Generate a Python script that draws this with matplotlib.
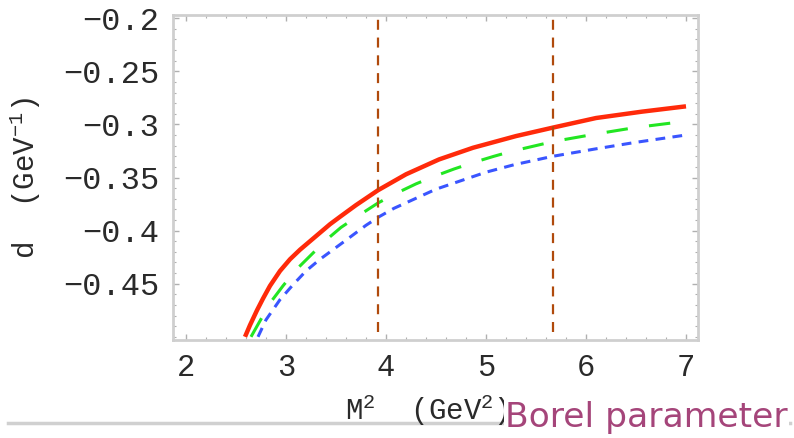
import matplotlib
matplotlib.use("Agg")
import matplotlib.pyplot as plt
from matplotlib.ticker import MultipleLocator, FixedLocator, FixedFormatter
from matplotlib.lines import Line2D

plt.rcParams['font.family'] = ['Liberation Mono', 'DejaVu Sans']
plt.rcParams['mathtext.fontset'] = 'custom'
plt.rcParams['mathtext.rm'] = 'Liberation Mono'
plt.rcParams['mathtext.it'] = 'Liberation Mono'

# ── data ──
red_x = [2.59, 2.64, 2.71, 2.77, 2.84, 2.94, 3.04, 3.14, 3.24, 3.34, 3.44, 3.54,
         3.70, 3.92, 4.20, 4.53, 4.87, 5.30, 5.67, 6.10, 6.56, 7.00]
red_y = [-0.500, -0.489, -0.475, -0.464, -0.452, -0.438, -0.427, -0.418, -0.410,
         -0.402, -0.394, -0.387, -0.376, -0.362, -0.347, -0.333, -0.322, -0.311,
         -0.303, -0.294, -0.288, -0.283]

green_x = [2.65, 2.74, 2.85, 2.97, 3.10, 3.25, 3.40, 3.55, 3.74, 3.92, 4.10, 4.30,
           4.48, 4.68, 4.87, 5.08, 5.27, 5.68, 6.10, 6.49, 7.00]
green_y = [-0.500, -0.485, -0.467, -0.452, -0.437, -0.423, -0.409, -0.397, -0.385,
           -0.374, -0.365, -0.356, -0.349, -0.342, -0.336, -0.330, -0.325, -0.316,
           -0.309, -0.303, -0.297]

blue_x = [2.72, 2.80, 2.94, 3.07, 3.20, 3.34, 3.47, 3.60, 3.80, 3.93, 4.08, 4.50,
          5.00, 5.28, 5.67, 6.10, 6.49, 7.00]
blue_y = [-0.500, -0.484, -0.465, -0.451, -0.438, -0.427, -0.418, -0.409, -0.395,
          -0.387, -0.379, -0.361, -0.345, -0.338, -0.330, -0.323, -0.317, -0.310]

window = [3.92, 5.67]

x_ticks = [2, 3, 4, 5, 6, 7]
y_ticks = [-0.2, -0.25, -0.3, -0.35, -0.4, -0.45]
y_labels = ['\u22120.2', '\u22120.25', '\u22120.3', '\u22120.35', '\u22120.4', '\u22120.45']

# ── figure ──
fig = plt.figure(figsize=(7.94, 4.38), dpi=100)
ax = fig.add_axes([173/794, 1-340/438, (698-173)/794, (340-15)/438])

ax.plot(red_x, red_y, color='#ff2a0a', lw=3.2, solid_capstyle='butt',
        solid_joinstyle='round', zorder=4)
ax.plot(green_x, green_y, color='#22e622', lw=2.2, dashes=(7, 7), zorder=3)
ax.plot(blue_x, blue_y, color='#3a55ff', lw=2.2, dashes=(3.2, 2.4), zorder=3)
for xv in window:
    ax.axvline(xv, ymin=0.025, ymax=1.01, color='#b04a0c', lw=1.6,
               dashes=(4.5, 3.5), clip_on=False, zorder=5)

ax.set_xlim(1.87, 7.12)
ax.set_ylim(-0.503, -0.197)

ax.xaxis.set_major_locator(FixedLocator(x_ticks))
ax.xaxis.set_minor_locator(MultipleLocator(0.2))
ax.yaxis.set_major_locator(FixedLocator(y_ticks))
ax.yaxis.set_major_formatter(FixedFormatter(y_labels))
ax.yaxis.set_minor_locator(MultipleLocator(0.01))

ax.tick_params(which='both', direction='in', top=True, right=True, color='#b0b0b0')
ax.tick_params(which='major', length=4, width=1)
ax.tick_params(which='minor', length=2, width=0.8)
ax.tick_params(axis='y', which='major', labelsize=23, pad=10, labelcolor='#2a2a2a')
ax.tick_params(axis='x', which='major', labelsize=22, pad=9, labelcolor='#2a2a2a')

for sp in ax.spines.values():
    sp.set_color('#cfcfcf')
    sp.set_linewidth(2)

ax.set_ylabel('d  (GeV$^{-1}$)', fontsize=21, labelpad=14, color='#2a2a2a')

fig.text(345/794, 1-410/438, 'M$^2$  (GeV$^2$)', fontsize=21, color='#2a2a2a',
         ha='left', va='center')

# grey rule under the plot and the overlay caption
fig.add_artist(Line2D([8/794, 790/794], [1-423/438, 1-423/438],
                      color='#d0d0d0', lw=2.5, transform=fig.transFigure))
fig.text(505/794, 1-427/438, 'Borel parameter', fontsize=24.8, color='#a5457a',
         family='DejaVu Sans', ha='left', va='baseline', zorder=10,
         bbox=dict(facecolor='white', edgecolor='none', pad=1))

fig.savefig('out.png', dpi=100)
